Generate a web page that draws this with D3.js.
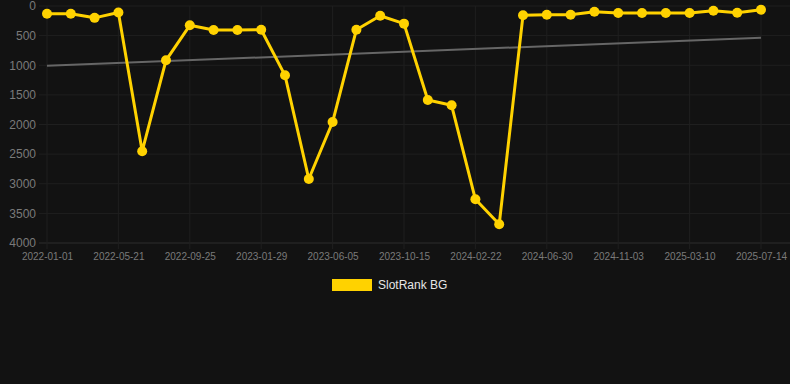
<!DOCTYPE html>
<html>
<head>
<meta charset="utf-8">
<script src="https://cdn.jsdelivr.net/npm/d3@7"></script>
<style>
  html, body { margin: 0; padding: 0; background: #121212; }
  svg { display: block; font-family: Arial, "Liberation Sans", sans-serif; }
</style>
</head>
<body>
<div id="chart"></div>
<script>
// data
const dates = [
  "2022-01-01", "2022-02-16", "2022-04-04", "2022-05-21", "2022-07-02", "2022-08-13",
  "2022-09-25", "2022-11-05", "2022-12-17", "2023-01-29", "2023-03-13", "2023-04-24",
  "2023-06-05", "2023-07-19", "2023-08-31", "2023-10-15", "2023-11-27", "2024-01-09",
  "2024-02-22", "2024-04-05", "2024-05-18", "2024-06-30", "2024-08-10", "2024-09-21",
  "2024-11-03", "2024-12-15", "2025-01-27", "2025-03-10", "2025-04-21", "2025-06-02",
  "2025-07-14"
];
const rankValues = [
  130, 130, 200, 110, 2450, 917, 326, 405, 405, 400, 1170, 2920,
  1958, 400, 164, 298, 1587, 1676, 3263, 3685, 157, 147, 147, 96,
  118, 118, 118, 118, 79, 113, 62
];
const trendValues = [1010, 535]; // first and last category
const yTicks = [0, 500, 1000, 1500, 2000, 2500, 3000, 3500, 4000];
const xTickLabels = [
  "2022-01-01", "2022-05-21", "2022-09-25", "2023-01-29", "2023-06-05", "2023-10-15",
  "2024-02-22", "2024-06-30", "2024-11-03", "2025-03-10", "2025-07-14"
];
const seriesName = "SlotRank BG";

const width = 790, height = 384;
const margin = { top: 6, right: 29, bottom: 141, left: 47 };
const innerW = width - margin.left - margin.right;
const innerH = height - margin.top - margin.bottom;

const svg = d3.select("#chart").append("svg")
  .attr("width", width)
  .attr("height", height);

svg.append("rect").attr("width", width).attr("height", height).attr("fill", "#121212");

const g = svg.append("g").attr("transform", `translate(${margin.left},${margin.top})`);

const x = d3.scalePoint().domain(dates).range([0, innerW]);
const y = d3.scaleLinear().domain([0, 4000]).range([0, innerH]);

// grid
g.append("g").selectAll("line").data(yTicks).join("line")
  .attr("x1", -8).attr("x2", innerW + 29)
  .attr("y1", d => y(d)).attr("y2", d => y(d))
  .attr("stroke", d => d === 4000 ? "#2c2c2c" : "#1f1f1f")
  .attr("stroke-width", 1);

g.append("g").selectAll("line").data(xTickLabels).join("line")
  .attr("x1", d => x(d)).attr("x2", d => x(d))
  .attr("y1", 0).attr("y2", innerH + 6)
  .attr("stroke", "#1f1f1f")
  .attr("stroke-width", 1);

// y axis
const yAxis = g.append("g")
  .call(d3.axisLeft(y).tickValues(yTicks).tickFormat(d3.format("d")).tickSize(0).tickPadding(11));
yAxis.select(".domain").remove();
yAxis.selectAll("text").attr("fill", "#7a7a7a").attr("font-size", 12);

// x axis
const xAxis = g.append("g")
  .attr("transform", `translate(0,${innerH})`)
  .call(d3.axisBottom(x).tickValues(xTickLabels).tickSize(0).tickPadding(10));
xAxis.select(".domain").remove();
xAxis.selectAll("text").attr("fill", "#7a7a7a").attr("font-size", 10);

// trend line
const trendDates = [dates[0], dates[dates.length - 1]];
g.append("path")
  .datum(trendValues)
  .attr("d", d3.line().x((d, i) => x(trendDates[i])).y(d => y(d)))
  .attr("fill", "none")
  .attr("stroke", "#666666")
  .attr("stroke-width", 2);

// series
const pts = dates.map((d, i) => ({ date: d, value: rankValues[i] }));
g.append("path")
  .datum(pts)
  .attr("d", d3.line().x(d => x(d.date)).y(d => y(d.value)))
  .attr("fill", "none")
  .attr("stroke", "#ffd200")
  .attr("stroke-width", 3)
  .attr("stroke-linejoin", "round");

g.append("g").selectAll("circle").data(pts).join("circle")
  .attr("cx", d => x(d.date))
  .attr("cy", d => y(d.value))
  .attr("r", 5)
  .attr("fill", "#ffd200");

// legend
const legend = svg.append("g").attr("transform", "translate(332,279)");
legend.append("rect").attr("width", 40).attr("height", 12).attr("fill", "#ffd200");
legend.append("text")
  .attr("x", 46).attr("y", 10)
  .attr("fill", "#e6e6e6")
  .attr("font-size", 12)
  .text(seriesName);
</script>
</body>
</html>
